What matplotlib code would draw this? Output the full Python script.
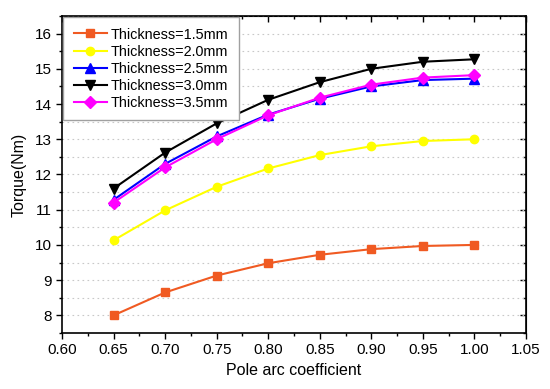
import matplotlib
matplotlib.use('Agg')
import matplotlib.pyplot as plt
from matplotlib.ticker import MultipleLocator

plt.rcParams['font.family'] = ['Liberation Sans', 'DejaVu Sans']

# Data
pole_arc = [0.65, 0.70, 0.75, 0.80, 0.85, 0.90, 0.95, 1.00]
torque_15 = [8.00, 8.65, 9.13, 9.48, 9.72, 9.88, 9.97, 10.00]
torque_20 = [10.13, 10.98, 11.65, 12.17, 12.55, 12.80, 12.95, 13.00]
torque_25 = [11.28, 12.30, 13.08, 13.70, 14.15, 14.50, 14.68, 14.72]
torque_30 = [11.60, 12.62, 13.45, 14.12, 14.62, 15.00, 15.20, 15.27]
torque_35 = [11.20, 12.20, 13.00, 13.68, 14.18, 14.55, 14.75, 14.82]

labels = ['Thickness=1.5mm', 'Thickness=2.0mm', 'Thickness=2.5mm',
          'Thickness=3.0mm', 'Thickness=3.5mm']
series = [torque_15, torque_20, torque_25, torque_30, torque_35]
colors = ['#F05A22', '#FFFF00', '#0000FF', '#000000', '#FF00FF']
markers = ['s', 'o', '^', 'v', 'D']
msizes = [5.5, 6, 6.5, 6.5, 6]

fig = plt.figure(figsize=(5.5, 3.89), dpi=100)
ax = fig.add_axes([0.1127, 0.144, 0.8437, 0.815])

for y, c, m, ms, lab in zip(series, colors, markers, msizes, labels):
    ax.plot(pole_arc, y, color=c, marker=m, markersize=ms, linewidth=1.5,
            label=lab)

ax.set_xlim(0.60, 1.05)
ax.set_ylim(7.5, 16.5)
ax.xaxis.set_major_locator(MultipleLocator(0.05))
ax.xaxis.set_minor_locator(MultipleLocator(0.025))
ax.yaxis.set_major_locator(MultipleLocator(1))
ax.yaxis.set_minor_locator(MultipleLocator(0.5))
ax.xaxis.set_major_formatter(plt.FormatStrFormatter('%.2f'))

ax.yaxis.grid(True, which='both', linestyle=(0, (1.5, 3)), color='#c8c8c8',
              linewidth=0.8)
ax.set_axisbelow(True)

ax.tick_params(axis='both', which='major', direction='out', length=4,
               width=1, labelsize=11)
ax.tick_params(axis='both', which='minor', direction='out', length=2.5,
               width=1)
for sp in ax.spines.values():
    sp.set_linewidth(1.2)

# inward ticks on top and right
axt = ax.secondary_xaxis('top')
axt.xaxis.set_major_locator(MultipleLocator(0.05))
axt.xaxis.set_minor_locator(MultipleLocator(0.025))
axt.tick_params(which='major', direction='in', length=4, width=1, labeltop=False)
axt.tick_params(which='minor', direction='in', length=2.5, width=1)
axr = ax.secondary_yaxis('right')
axr.yaxis.set_major_locator(MultipleLocator(1))
axr.yaxis.set_minor_locator(MultipleLocator(0.5))
axr.tick_params(which='major', direction='in', length=4, width=1, labelright=False)
axr.tick_params(which='minor', direction='in', length=2.5, width=1)

ax.set_xlabel('Pole arc coefficient', fontsize=11.5, labelpad=4)
ax.set_ylabel('Torque(Nm)', fontsize=11.5, labelpad=6)

leg = ax.legend(loc='upper left', fontsize=10.4, frameon=True, fancybox=False,
                edgecolor='#a0a0a0', framealpha=1, borderaxespad=0.1,
                handlelength=2.3, labelspacing=0.22, borderpad=0.7,
                handletextpad=0.3)
leg.get_frame().set_linewidth(1.0)

fig.savefig('out.png', dpi=100)
